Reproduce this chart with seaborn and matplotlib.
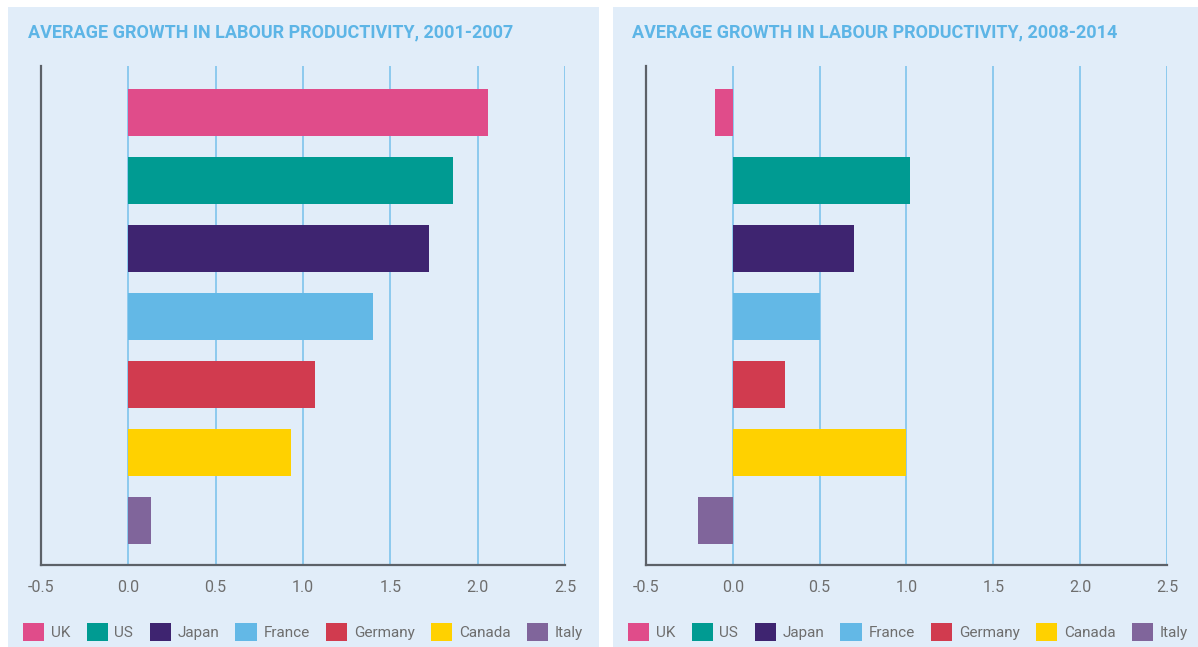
import matplotlib
matplotlib.use("Agg")
import matplotlib.pyplot as plt
from matplotlib.patches import Rectangle, Patch
import seaborn as sns
import pandas as pd

countries = ["UK", "US", "Japan", "France", "Germany", "Canada", "Italy"]
growth_2001_2007 = [2.06, 1.86, 1.72, 1.40, 1.07, 0.93, 0.13]
growth_2008_2014 = [-0.10, 1.02, 0.70, 0.50, 0.30, 1.00, -0.20]
titles = [
    "AVERAGE GROWTH IN LABOUR PRODUCTIVITY, 2001-2007",
    "AVERAGE GROWTH IN LABOUR PRODUCTIVITY, 2008-2014",
]
x_ticks = [-0.5, 0.0, 0.5, 1.0, 1.5, 2.0, 2.5]
x_tick_labels = ["-0.5", "0.0", "0.5", "1.0", "1.5", "2.0", "2.5"]

colors = ["#E04C8A", "#009B92", "#3E2470", "#63B8E6", "#D13B4F", "#FFD100", "#80659B"]
panel_bg = "#E1EDF9"
grid_col = "#8CCAEE"
spine_col = "#5C6168"
title_col = "#5DB5E6"
text_col = "#6E6E6E"

sns.set_theme(style="white")
plt.rcParams["font.family"] = ["Roboto", "DejaVu Sans"]

W, H = 1198, 647
fig = plt.figure(figsize=(W / 100, H / 100), dpi=100)
fig.patch.set_facecolor("white")

def fx(px):
    return px / W

def fy(py):
    return 1 - py / H

# panel backgrounds, kept behind the axes
panels = [(8, 599), (613, 1198)]
for x0, x1 in panels:
    fig.patches.append(Rectangle((fx(x0), 0), fx(x1 - x0), fy(7), transform=fig.transFigure,
                                 facecolor=panel_bg, edgecolor="none", zorder=-5))

axes_px = [(41, 565), (646, 1167)]
title_x = [28, 632]
legend_x = [23, 628]
series = [growth_2001_2007, growth_2008_2014]

for i in range(2):
    x0, x1 = axes_px[i]
    ax = fig.add_axes([fx(x0), fy(565), fx(x1 - x0), (565 - 66) / H])
    ax.set_facecolor("none")
    df = pd.DataFrame({"country": countries, "growth": series[i]})
    sns.barplot(data=df, x="growth", y="country", hue="country", palette=colors,
                order=countries, hue_order=countries, dodge=False, width=0.69,
                legend=False, ax=ax, zorder=3, saturation=1,
                edgecolor="none", linewidth=0)
    ax.set_xlim(-0.5, 2.5)
    ax.set_ylim(6.66, -0.68)
    for xv in x_ticks[1:]:
        ax.axvline(xv, color=grid_col, lw=1.4, zorder=1)
    ax.set_xticks(x_ticks)
    ax.set_xticklabels(x_tick_labels)
    ax.tick_params(axis="x", length=0, pad=11, labelsize=11.5, labelcolor=text_col)
    ax.set_yticks([])
    ax.set_xlabel("")
    ax.set_ylabel("")
    for s in ["top", "right"]:
        ax.spines[s].set_visible(False)
    for s in ["left", "bottom"]:
        ax.spines[s].set_color(spine_col)
        ax.spines[s].set_linewidth(1.6)
        ax.spines[s].set_zorder(4)

    fig.text(fx(title_x[i]), fy(32), titles[i], color=title_col, fontsize=13,
             fontweight="bold", ha="left", va="center")

    handles = [Patch(facecolor=c, edgecolor="none", label=n) for c, n in zip(colors, countries)]
    fig.legend(handles=handles, loc="center left",
               bbox_to_anchor=(fx(legend_x[i]), fy(632)), bbox_transform=fig.transFigure,
               ncol=7, frameon=False, fontsize=11, labelcolor=text_col,
               handlelength=1.38, handleheight=1.38, handletextpad=0.45,
               columnspacing=1.06, borderpad=0, borderaxespad=0)

fig.savefig("out.png", dpi=100, facecolor="white")
